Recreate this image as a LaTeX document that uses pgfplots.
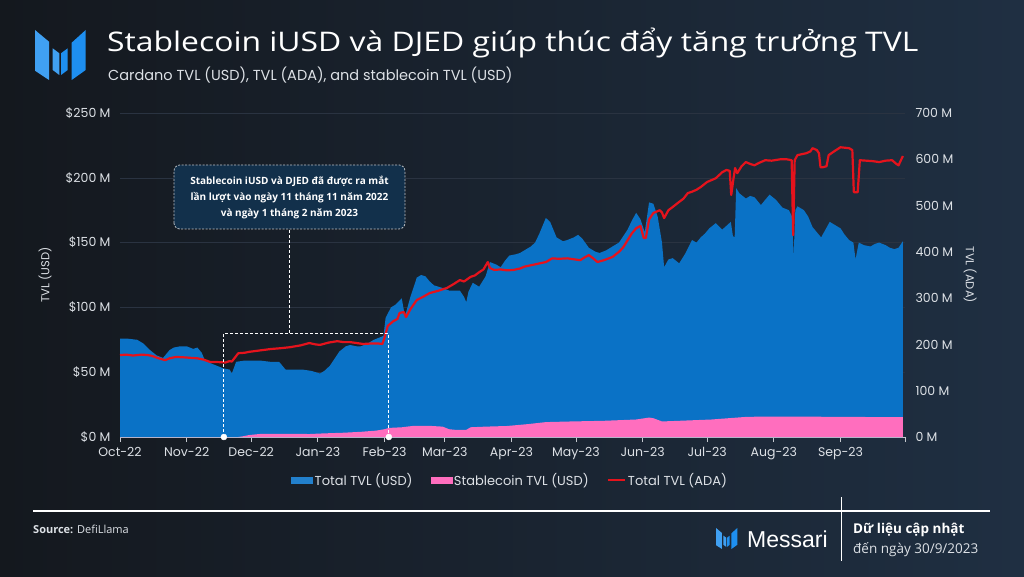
\documentclass[border=0pt]{standalone}
\usepackage{fontspec}
\usepackage{pgfplots}
\pgfplotsset{compat=1.18}
\usepackage{pgfplotstable}
\setmainfont{Open Sans}
\newfontfamily\pop{Poppins}
\newfontfamily\lib{Liberation Sans}
\newfontfamily\titlefont{Open Sans}[FakeStretch=1.18]

\definecolor{bgL}{HTML}{14181E}
\definecolor{bgR}{HTML}{1F2F42}
\definecolor{tvlblue}{HTML}{0A72C6}
\definecolor{stpink}{HTML}{FF6EBE}
\definecolor{adared}{HTML}{E5131C}
\definecolor{gridc}{HTML}{2A3341}
\definecolor{txt}{HTML}{DDE1E6}
\definecolor{axisc}{HTML}{C4C8CE}
\definecolor{boxfill}{HTML}{12304B}
\definecolor{logoblue}{HTML}{1E8FF0}

\pgfplotstableread{
d v
0 76
3 76
8 75
11 72
14 67
17 63
20 61
23 67
25 69
28 70
31 70
34 68
36 69
38 65
39.5 59
42 57
45 55
48 53
51 52
52 49
54 58
58 59
62 59
65 59
70 58
74 58
77 52
81 52
85 52
89 51
93 49
95 51
97.6 55
100 61
102 66
105 70
107 71
110 70
112 70
115 72
118 75
121 77
122.5 78
123.5 92
126 100
128 102
131 107
132.5 93
135 108
138 123
140 125
142 124
144 120
146 117
148 116
150 115
153 113
156 113
158 113
160 108
161 104
162 112
164 119
167 116
170 124
172 135
175 133
177 131
179 136
181 140
184 141
186 142
189 145
191 147
193 150
195 157
197 165
198 169
200 166
202 158
203 154
206 151
208 152
211 154
213 156
215 153
218 146
221 143
223 142
226 144
229 147
232 150
234 155
236 160
238 167
240 173
242 168
244 158
246 181
248 180
250 170
252 150
253 131
255 137
257 138
260 134
263 142
266 152
268 150
270 154
272 157
274 161
277 165
280 160
282 163
284 166
285 155
285.8 154
286.5 192
288 188
291 184
293 186
295 185
298 179
300 183
302 187
305 183
308 177
311 175
312.5 170
313.2 139
314 175
315 178
318 175
320 170
322 162
324 158
326 154
328 160
330 166
332 164
335 161
337 156
339 152
341 150
342 137
343.5 150
346 148
349 147
351 149
353 150
356 148
358 146
360 145
362 146
364 151
}\tvlusd

\pgfplotstableread{
d v
0 0
55 0
57 0.5
60 1.5
66 2.5
75 2.5
88 2.3
95 2.8
104 3.3
112 4
119 4.9
123 6
125 7
131 7.5
136 8.5
145 8.5
150 8
153 6
156 5.5
161 5.5
163 7.5
170 8
180 8.5
190 10
198 11.5
210 12
225 12.5
240 13.5
246 15
248 14.5
252 12
260 12.5
275 13.5
291 15.5
300 15.8
330 15.6
350 15.4
364 15.4
}\stable

\pgfplotstableread{
d v
0 177
3 178
6 176
10 178
13 177
15 175
18 170
21 166
23 170
26 173
30 172
33 171
36 170
39 167
42 162
45 162
49 161
51 164
52 163
53.5 172
55 181
58 182
60 184
65 187
70 190
75 192
79 194
84 198
88 203
91 200
93 199
97 204
101 207
104 205
107 205
110 203
113 201
117 202
120 202
122 201
123 215
124.5 240
127 250
129 255
130 268
132 270
133 259
135 276
138 296
141 303
144 311
148 316
152 322
155 330
158 339
160 336
163 346
165 349
167 356
169 362
171 378
172 365
174 361
177 362
180 360
183 361
186 364
188 368
191 371
194 374
198 378
201 386
204 385
208 386
211 384
214 382
216 388
218 393
220 386
222 378
225 382
229 389
232 400
234 410
236 425
238 440
240 451
242 456
243.5 430
244.5 430
246 470
248 484
251 490
252 485
253 473
255 490
257 497
260 508
262 515
264 527
266 530
268 534
270 540
273 551
275 555
277 559
280 572
282 577
283.5 575
284.2 523
285.3 560
286 581
287 570
289 585
291 594
293 590
295 587
297 592
300 598
303 597
307 600
310 600
312.3 598
313 436
313.7 598
315 609
317 611
319 613
321 617
322 624
324 620
325 613
325.7 583
327 583
328.5 585
329.5 609
332 617
335 626
337 625
339 624
340.5 620
341.2 529
343 529
344 598
347 597
350 596
353 594
356 597
359 598
361 590
362 587
364 607
}\tvlada

\newcommand\messarilogo{%
  \fill[logoblue!85!white] (0,0) -- (14,-11.7) -- (14,-50) -- (0,-40.7) -- cycle;
  \fill[logoblue!85!white] (17.7,-18.3) -- (24.3,-23.3) -- (24.3,-45) -- (17.7,-40) -- cycle;
  \fill[logoblue] (26,-23.3) -- (32.7,-18.3) -- (32.7,-40) -- (26,-45) -- cycle;
  \fill[logoblue] (36.7,-12.7) -- (50.7,0) -- (50.7,-40) -- (36.7,-50) -- cycle;
}

\begin{document}
\begin{tikzpicture}
\shade[left color=bgL,right color=bgR] (0pt,0pt) rectangle (1024pt,576pt);
\useasboundingbox (0pt,0pt) rectangle (1024pt,576pt);

\begin{scope}[x=1pt,y=1pt]
% header logo
\begin{scope}[shift={(35,546)}]
\messarilogo
\end{scope}
\node[anchor=base west, inner sep=0, text=white, font=\titlefont\fontsize{27}{30}\selectfont] at (107,524) {Stablecoin iUSD và DJED giúp thúc đẩy tăng trưởng TVL};
\node[anchor=base west, inner sep=0, text=txt, font=\pop\fontsize{14.5}{17}\selectfont] at (108,495) {Cardano TVL (USD), TVL (ADA), and stablecoin TVL (USD)};
% footer
\draw[white, line width=1.3pt] (33,65) -- (990,65);
\draw[white, line width=1pt] (841,79) -- (841,15);
\node[anchor=base west, inner sep=0, text=txt, font=\fontsize{11}{13}\selectfont] at (33,43) {\textbf{Source:} DefiLlama};
\begin{scope}[shift={(716,48)}, scale=0.42]
\messarilogo
\end{scope}
\node[anchor=base west, inner sep=0, text=white, font=\lib\fontsize{23}{26}\selectfont] at (747,29) {Messari};
\node[anchor=base west, inner sep=0, text=white, font=\bfseries\fontsize{13.5}{16}\selectfont] at (853,43) {Dữ liệu cập nhật};
\node[anchor=base west, inner sep=0, text=txt, font=\fontsize{13.5}{16}\selectfont] at (853,23) {đến ngày 30/9/2023};
\end{scope}

\begin{axis}[
  at={(120pt,139pt)}, anchor=south west,
  scale only axis, width=785pt, height=324pt,
  xmin=0, xmax=365, ymin=0, ymax=250,
  axis x line*=bottom, axis y line*=left,
  x axis line style={draw=axisc, line width=1pt},
  y axis line style={draw=none},
  xtick={0,31,61,92,123,151,182,212,243,273,304,335,365},
  xticklabels={Oct-22,Nov-22,Dec-22,Jan-23,Feb-23,Mar-23,Apr-23,May-23,Jun-23,Jul-23,Aug-23,Sep-23,{}},
  xtick align=outside, major tick length=5pt,
  xtick style={draw=axisc, line width=0.8pt},
  xticklabel style={yshift=-2pt},
  ytick={0,50,100,150,200,250},
  yticklabels={\$0 M,\$50 M,\$100 M,\$150 M,\$200 M,\$250 M},
  yticklabel style={xshift=-6pt},
  ytick style={draw=none},
  ymajorgrids, grid style={draw=gridc, line width=0.6pt},
  tick label style={font=\pop\fontsize{12.5}{14}\selectfont, text=txt},
  ylabel={TVL (USD)},
  every axis y label/.style={at={(axis description cs:-0.0955,0.5)}, rotate=90, anchor=center, font=\pop\fontsize{11.5}{13}\selectfont, text=txt},
  clip=false,
]
\addplot[fill=tvlblue, draw=none] table[x=d,y=v]{\tvlusd} \closedcycle;
\addplot[fill=stpink, draw=none] table[x=d,y=v]{\stable} \closedcycle;
\end{axis}

\begin{axis}[
  at={(120pt,139pt)}, anchor=south west,
  scale only axis, width=785pt, height=324pt,
  xmin=0, xmax=365, ymin=0, ymax=700,
  hide x axis, axis y line*=right,
  y axis line style={draw=none},
  ytick={0,100,200,300,400,500,600,700},
  yticklabels={0 M,100 M,200 M,300 M,400 M,500 M,600 M,700 M},
  yticklabel style={xshift=7pt},
  ytick style={draw=none},
  tick label style={font=\pop\fontsize{12.5}{14}\selectfont, text=txt},
  ylabel={TVL (ADA)},
  every axis y label/.style={at={(axis description cs:1.083,0.5)}, rotate=-90, anchor=center, font=\pop\fontsize{11.5}{13}\selectfont, text=txt},
  clip=false,
  legend columns=3,
  legend style={at={(axis description cs:0.497,-0.133)}, anchor=center, draw=none, fill=none,
    font=\pop\fontsize{13}{15}\selectfont, text=txt,
    /tikz/every even column/.append style={column sep=16pt}},
]
\addlegendimage{legend image code/.code={\fill[tvlblue!90!white] (0pt,-3pt) rectangle (21pt,3pt);}}
\addlegendentry{Total TVL (USD)}
\addlegendimage{legend image code/.code={\fill[stpink] (0pt,-3pt) rectangle (21pt,3pt);}}
\addlegendentry{Stablecoin TVL (USD)}
\addplot[draw=adared, line width=2.2pt, line join=round] table[x=d,y=v]{\tvlada};
\addlegendentry{Total TVL (ADA)}
% annotation
\draw[white, dash pattern=on 3pt off 2pt, line width=0.9pt] (axis cs:48.3,0) -- (axis cs:48.3,224) -- (axis cs:125,224) -- (axis cs:125,0);
\draw[white, dash pattern=on 3pt off 2pt, line width=0.9pt] (axis cs:79,224) -- (axis cs:79,449.4);
\draw[white!70!gridc, dash pattern=on 2pt off 1.5pt, line width=0.8pt, rounded corners=6pt, fill=boxfill] (axis cs:25.1,449.4) rectangle (axis cs:132.5,587.7);
\node[align=center, text=white, font=\bfseries\fontsize{10}{16}\selectfont] at (axis cs:78.8,518.5) {Stablecoin iUSD và DJED đã được ra mắt\\lần lượt vào ngày 11 tháng 11 năm 2022\\và ngày 1 tháng 2 năm 2023};
\addplot[only marks, mark=*, mark size=3pt, white, forget plot] coordinates {(48.3,0) (125,0)};
\end{axis}
\end{tikzpicture}
\end{document}
